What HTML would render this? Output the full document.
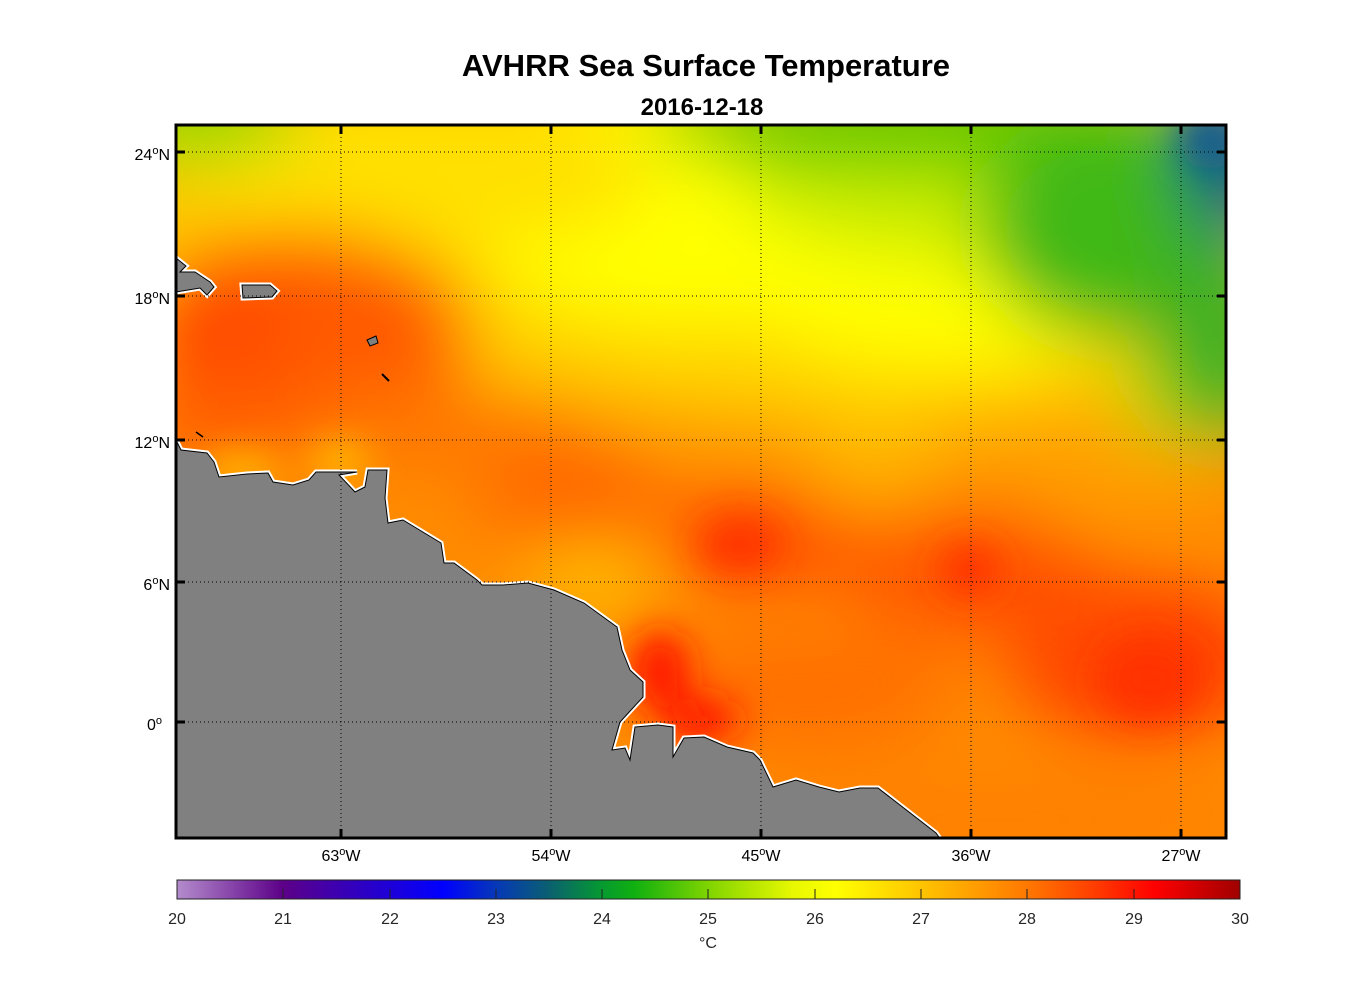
<!DOCTYPE html>
<html><head><meta charset="utf-8"><style>
html,body{margin:0;padding:0;background:#fff;}
svg text{font-family:"Liberation Sans",Arial,sans-serif;}
</style></head><body>
<svg width="1356" height="1000" viewBox="0 0 1356 1000" xmlns="http://www.w3.org/2000/svg">
<defs>
<clipPath id="frame"><rect x="176" y="125" width="1050" height="713"/></clipPath>
<filter id="b1" x="-50%" y="-50%" width="200%" height="200%"><feGaussianBlur stdDeviation="35"/></filter>
<filter id="b2" x="-50%" y="-50%" width="200%" height="200%"><feGaussianBlur stdDeviation="18"/></filter>
<linearGradient id="cb" x1="0" x2="1" y1="0" y2="0">
<stop offset="0" stop-color="#b48ccc"/>
<stop offset="0.1" stop-color="#5c0088"/>
<stop offset="0.18" stop-color="#2a00c8"/>
<stop offset="0.25" stop-color="#0000ff"/>
<stop offset="0.3" stop-color="#0638b8"/>
<stop offset="0.35" stop-color="#0a6070"/>
<stop offset="0.4" stop-color="#069a30"/>
<stop offset="0.43" stop-color="#10b010"/>
<stop offset="0.5" stop-color="#80d400"/>
<stop offset="0.58" stop-color="#e8f800"/>
<stop offset="0.62" stop-color="#ffff00"/>
<stop offset="0.7" stop-color="#ffc400"/>
<stop offset="0.8" stop-color="#ff7800"/>
<stop offset="0.86" stop-color="#ff4000"/>
<stop offset="0.92" stop-color="#ff0000"/>
<stop offset="1" stop-color="#a00000"/>
</linearGradient>
</defs>

<text x="706" y="76" font-size="31" font-weight="bold" text-anchor="middle">AVHRR Sea Surface Temperature</text>
<text x="702" y="115" font-size="24" font-weight="bold" text-anchor="middle">2016-12-18</text>

<g clip-path="url(#frame)">
<rect x="176" y="125" width="1050" height="713" fill="#ff8c00"/>
<g filter="url(#b1)">
<rect x="100" y="60" width="1200" height="330" fill="#ffc800"/>
<ellipse cx="850" cy="330" rx="380" ry="100" fill="#ffd000"/>
<ellipse cx="700" cy="200" rx="260" ry="130" fill="#ffff00"/>
<ellipse cx="420" cy="170" rx="230" ry="80" fill="#ffe000"/>
<ellipse cx="950" cy="300" rx="200" ry="70" fill="#ffff00"/>
<ellipse cx="1000" cy="180" rx="260" ry="80" fill="#c8ec00"/>
<ellipse cx="950" cy="120" rx="300" ry="50" fill="#60c800"/>
<ellipse cx="1200" cy="400" rx="80" ry="60" fill="#c0e400"/>
<ellipse cx="1120" cy="230" rx="140" ry="110" fill="#40b818"/>
<ellipse cx="1220" cy="330" rx="70" ry="110" fill="#40b020"/>
<ellipse cx="1240" cy="160" rx="60" ry="80" fill="#0a6080"/>
<ellipse cx="190" cy="115" rx="110" ry="45" fill="#90d800"/>
<ellipse cx="300" cy="340" rx="170" ry="110" fill="#ff5a00"/>
<ellipse cx="210" cy="330" rx="70" ry="70" fill="#ff4800"/>
<ellipse cx="200" cy="420" rx="60" ry="50" fill="#ff6000"/>
<ellipse cx="450" cy="430" rx="150" ry="45" fill="#ff7800"/>
<ellipse cx="570" cy="500" rx="90" ry="60" fill="#ff6a00"/>
<ellipse cx="760" cy="540" rx="100" ry="45" fill="#ff4a00"/>
<ellipse cx="960" cy="570" rx="120" ry="70" fill="#ff5a00"/>
<ellipse cx="1140" cy="660" rx="130" ry="80" fill="#ff4000"/>
<ellipse cx="1050" cy="600" rx="80" ry="50" fill="#ff5000"/>
<ellipse cx="800" cy="690" rx="160" ry="60" fill="#ff7000"/>
<ellipse cx="1100" cy="470" rx="140" ry="40" fill="#ffa000"/>
<ellipse cx="590" cy="580" rx="70" ry="30" fill="#ffc800"/>
<ellipse cx="880" cy="470" rx="80" ry="40" fill="#ffb000"/>
<ellipse cx="1000" cy="820" rx="260" ry="50" fill="#ff8000"/>
</g>
<g filter="url(#b2)">
<ellipse cx="660" cy="670" rx="30" ry="40" fill="#ff1800"/>
<ellipse cx="700" cy="720" rx="40" ry="22" fill="#ff1800"/>
<ellipse cx="740" cy="545" rx="40" ry="25" fill="#ff3000"/>
<ellipse cx="1150" cy="680" rx="50" ry="40" fill="#ff3000"/>
<ellipse cx="970" cy="570" rx="30" ry="25" fill="#ff3000"/>
<ellipse cx="240" cy="470" rx="40" ry="15" fill="#ffc000"/>
<ellipse cx="340" cy="460" rx="30" ry="15" fill="#ffc800"/>
<ellipse cx="1210" cy="140" rx="30" ry="30" fill="#0a5a90"/>
</g>
<g fill="#808080" stroke="#fff" stroke-width="5" stroke-linejoin="miter">
<polygon points="176,440 181,450 207,453 214,462 219,477 247,474 268,473 273,482 293,485 309,480 316,472 357,472 339,475 355,492 365,487 368,470 387,470 385,498 388,523 403,520 441,543 444,563 454,563 477,580 482,585 503,585 528,583 554,590 584,603 617,627 622,650 630,670 643,682 643,697 620,722 612,750 625,748 630,760 635,727 658,725 673,727 673,757 684,738 704,737 727,747 753,753 760,760 773,787 796,780 819,787 839,792 860,788 878,788 936,833 941,840 176,840"/>
<polygon points="176,258 186,266 180,272 195,272 210,282 214,287 207,295 200,288 176,292"/>
<polygon points="242,285 270,285 277,291 272,297 243,298"/>
</g>
<g fill="#808080" stroke="#000" stroke-width="1">
<polygon points="176,440 181,450 207,453 214,462 219,477 247,474 268,473 273,482 293,485 309,480 316,472 357,472 339,475 355,492 365,487 368,470 387,470 385,498 388,523 403,520 441,543 444,563 454,563 477,580 482,585 503,585 528,583 554,590 584,603 617,627 622,650 630,670 643,682 643,697 620,722 612,750 625,748 630,760 635,727 658,725 673,727 673,757 684,738 704,737 727,747 753,753 760,760 773,787 796,780 819,787 839,792 860,788 878,788 936,833 941,840 176,840"/>
<polygon points="176,258 186,266 180,272 195,272 210,282 214,287 207,295 200,288 176,292"/>
<polygon points="242,285 270,285 277,291 272,297 243,298"/>
<polygon points="367,340 376,336 378,343 370,346"/>
<line x1="382" y1="374" x2="389" y2="381" stroke-width="2"/>
<line x1="196" y1="432" x2="203" y2="437" stroke-width="1.5"/>
</g>
</g>

<g stroke="#000" stroke-width="1" stroke-dasharray="1,3" fill="none">
<line x1="341" y1="125" x2="341" y2="838"/>
<line x1="551" y1="125" x2="551" y2="838"/>
<line x1="761" y1="125" x2="761" y2="838"/>
<line x1="971" y1="125" x2="971" y2="838"/>
<line x1="1181" y1="125" x2="1181" y2="838"/>
<line x1="176" y1="152" x2="1226" y2="152"/>
<line x1="176" y1="296" x2="1226" y2="296"/>
<line x1="176" y1="440" x2="1226" y2="440"/>
<line x1="176" y1="582" x2="1226" y2="582"/>
<line x1="176" y1="722" x2="1226" y2="722"/>
</g>
<g stroke="#000" stroke-width="3">
<path d="M341,125v9M551,125v9M761,125v9M971,125v9M1181,125v9M341,838v-9M551,838v-9M761,838v-9M971,838v-9M1181,838v-9"/>
<path d="M176,152h9M176,296h9M176,440h9M176,582h9M176,722h9M1226,152h-9M1226,296h-9M1226,440h-9M1226,582h-9M1226,722h-9"/>
</g>
<rect x="176" y="125" width="1050" height="713" fill="none" stroke="#000" stroke-width="3"/>

<g font-size="16" fill="#000" text-anchor="end">
<text x="170" y="160">24<tspan font-size="11" dy="-6">o</tspan><tspan dy="6">N</tspan></text>
<text x="170" y="304">18<tspan font-size="11" dy="-6">o</tspan><tspan dy="6">N</tspan></text>
<text x="170" y="448">12<tspan font-size="11" dy="-6">o</tspan><tspan dy="6">N</tspan></text>
<text x="170" y="590">6<tspan font-size="11" dy="-6">o</tspan><tspan dy="6">N</tspan></text>
<text x="162" y="730">0<tspan font-size="11" dy="-6">o</tspan></text>
</g>
<g font-size="16" fill="#000" text-anchor="middle">
<text x="341" y="861">63<tspan font-size="11" dy="-6">o</tspan><tspan dy="6">W</tspan></text>
<text x="551" y="861">54<tspan font-size="11" dy="-6">o</tspan><tspan dy="6">W</tspan></text>
<text x="761" y="861">45<tspan font-size="11" dy="-6">o</tspan><tspan dy="6">W</tspan></text>
<text x="971" y="861">36<tspan font-size="11" dy="-6">o</tspan><tspan dy="6">W</tspan></text>
<text x="1181" y="861">27<tspan font-size="11" dy="-6">o</tspan><tspan dy="6">W</tspan></text>
</g>

<rect x="177" y="880" width="1063" height="19" fill="url(#cb)" stroke="#222" stroke-width="1"/>
<g stroke="#222" stroke-width="1">
<path d="M283,899v-10M390,899v-10M496,899v-10M602,899v-10M708,899v-10M815,899v-10M921,899v-10M1027,899v-10M1134,899v-10"/>
</g>
<g font-size="16" fill="#262626" text-anchor="middle">
<text x="177" y="924">20</text><text x="283" y="924">21</text><text x="390" y="924">22</text>
<text x="496" y="924">23</text><text x="602" y="924">24</text><text x="708" y="924">25</text>
<text x="815" y="924">26</text><text x="921" y="924">27</text><text x="1027" y="924">28</text>
<text x="1134" y="924">29</text><text x="1240" y="924">30</text>
<text x="708" y="948">°C</text>
</g>
</svg>
</body></html>
